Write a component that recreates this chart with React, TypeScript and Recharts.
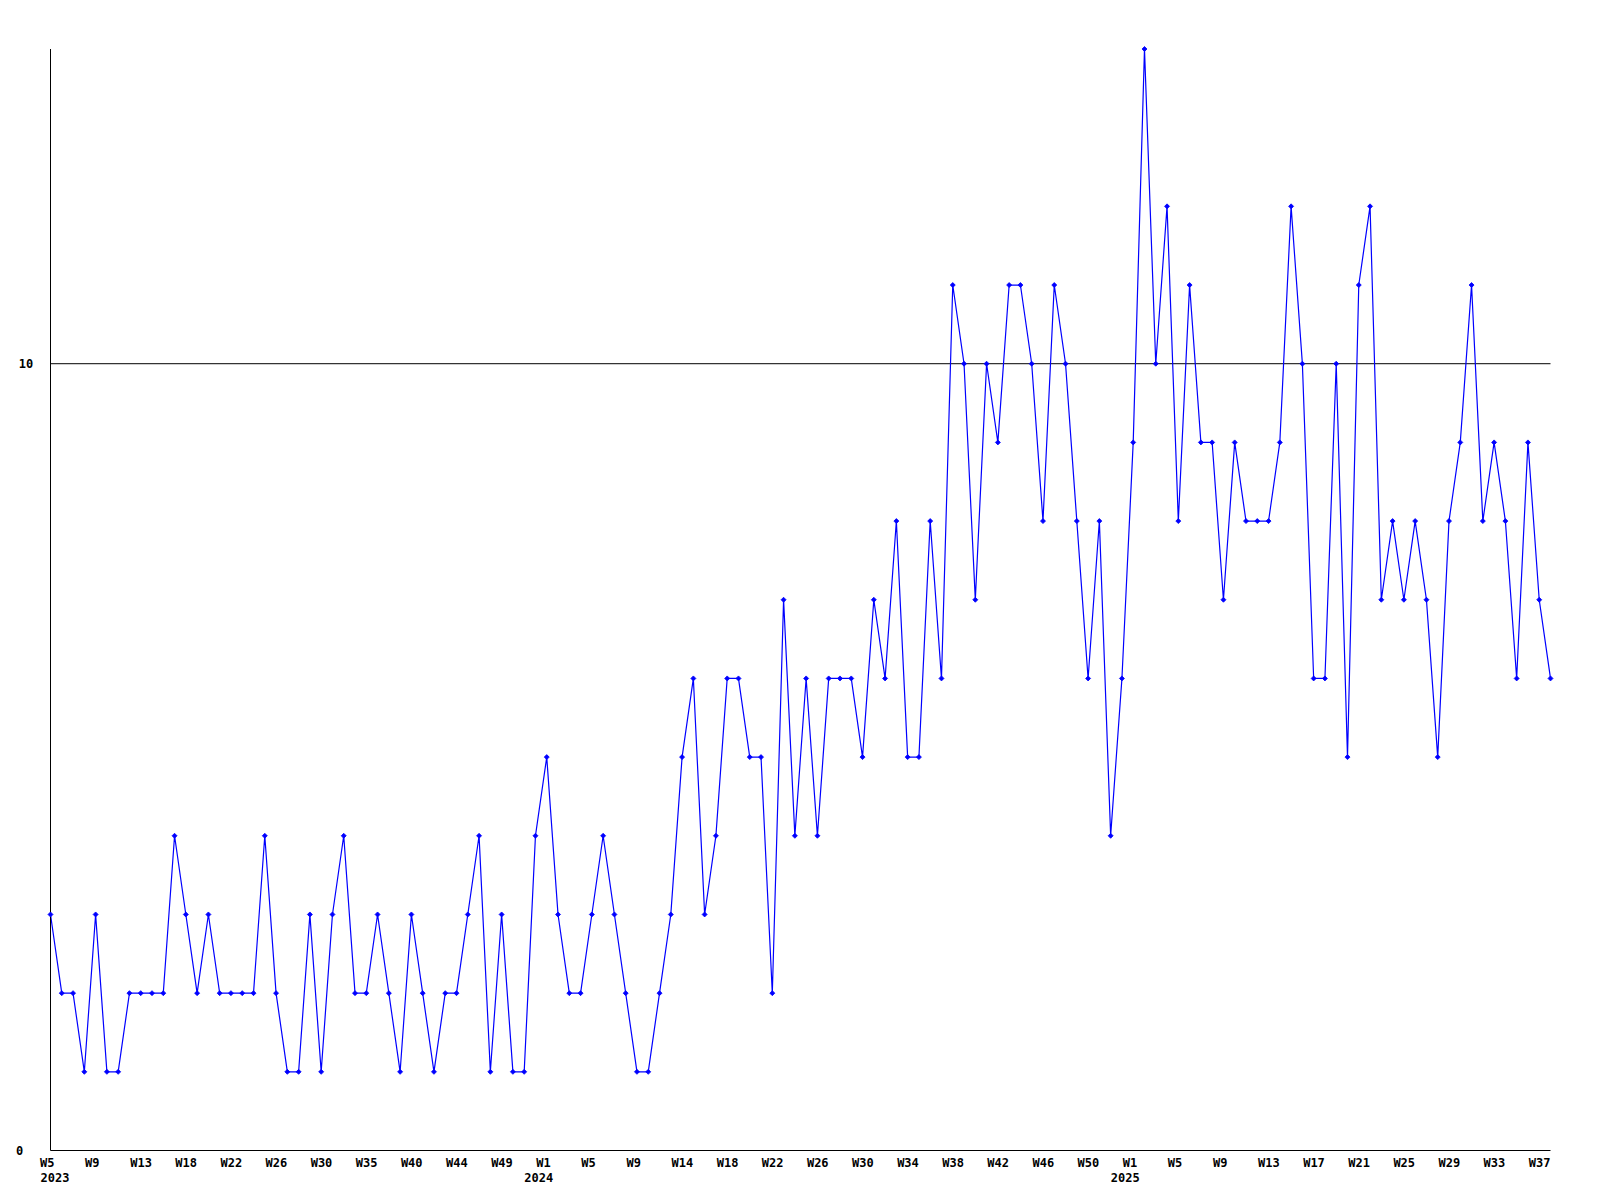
import React from 'react';
import { LineChart, Line, XAxis, YAxis, ReferenceLine } from 'recharts';

// Weekly counts, 2023 W5 .. 2025 W38 (134 points)
const values: number[] = [
  3, 2, 2, 1, 3, 1, 1, 2, 2, 2,
  2, 4, 3, 2, 3, 2, 2, 2, 2, 4,
  2, 1, 1, 3, 1, 3, 4, 2, 2, 3,
  2, 1, 3, 2, 1, 2, 2, 3, 4, 1,
  3, 1, 1, 4, 5, 3, 2, 2, 3, 4,
  3, 2, 1, 1, 2, 3, 5, 6, 3, 4,
  6, 6, 5, 5, 2, 7, 4, 6, 4, 6,
  6, 6, 5, 7, 6, 8, 5, 5, 8, 6,
  11, 10, 7, 10, 9, 11, 11, 10, 8, 11,
  10, 8, 6, 8, 4, 6, 9, 14, 10, 12,
  8, 11, 9, 9, 7, 9, 8, 8, 8, 9,
  12, 10, 6, 6, 10, 5, 11, 12, 7, 8,
  7, 8, 7, 5, 8, 9, 11, 8, 9, 8,
  6, 9, 7, 6,
];

// Week labels shown every 4th point
const tickLabels: string[] = [
  'W5', 'W9', 'W13', 'W18', 'W22', 'W26', 'W30', 'W35', 'W40', 'W44', 'W49',
  'W1', 'W5', 'W9', 'W14', 'W18', 'W22', 'W26', 'W30', 'W34', 'W38', 'W42', 'W46', 'W50',
  'W1', 'W5', 'W9', 'W13', 'W17', 'W21', 'W25', 'W29', 'W33', 'W37',
];
const tickStep = 4;
const tickIndex: number[] = tickLabels.map((_, k) => k * tickStep);

// Year labels under the first tick of each year
const years: string[] = ['2023', '2024', '2025'];
const yearTickIndex: number[] = [0, 44, 96];

const yTicks: number[] = [0, 10];
const yMax = 14;

const data = values.map((v, i) => ({ idx: i, value: v }));

const FONT = '"DejaVu Sans Mono", monospace';
const FS = 12;
const BLUE = '#0000ff';
const LEFT_LIMIT = 32.5;

const XTick = (props: any) => {
  const { x, y, payload } = props;
  const k = tickIndex.indexOf(payload.value);
  const yi = yearTickIndex.indexOf(payload.value);
  return (
    <g>
      <text x={x - 10.5} y={y + 16.5} fontFamily={FONT} fontWeight="bold" fontSize={FS} fill="#000">
        {k >= 0 ? tickLabels[k] : ''}
      </text>
      {yi >= 0 && (
        <text
          x={Math.max(x - 22.5, LEFT_LIMIT)}
          y={y + 31.2}
          fontFamily={FONT}
          fontWeight="bold"
          fontSize={FS}
          fill="#000"
        >
          {years[yi]}
        </text>
      )}
    </g>
  );
};

const YTick = (props: any) => {
  const { x, y, payload } = props;
  const s = String(payload.value);
  return (
    <text
      x={x - 34.6 + 2.8 * (s.length - 1)}
      y={y + 4.4}
      fontFamily={FONT}
      fontWeight="bold"
      fontSize={FS}
      fill="#000"
    >
      {s}
    </text>
  );
};

const Marker = (props: any) => {
  const { cx, cy, index } = props;
  if (cx == null || cy == null) return <g key={`d${index}`} />;
  const r = 2.5;
  return (
    <path
      key={`d${index}`}
      d={`M${cx},${cy - r}L${cx + r},${cy}L${cx},${cy + r}L${cx - r},${cy}Z`}
      fill={BLUE}
      stroke={BLUE}
      strokeWidth={0.8}
    />
  );
};

export default function App() {
  return (
    <div style={{ width: 1584, height: 1184, background: '#fff' }}>
      <LineChart
        width={1584}
        height={1184}
        data={data}
        margin={{ top: 41, left: 2.5, right: 41.5, bottom: 1.5 }}
      >
        <XAxis
          dataKey="idx"
          type="number"
          domain={[0, values.length - 1]}
          ticks={tickIndex}
          interval={0}
          height={40}
          tickSize={0}
          tickMargin={0}
          tickLine={false}
          axisLine={{ stroke: '#000', strokeWidth: 1 }}
          tick={<XTick />}
        />
        <YAxis
          type="number"
          domain={[0, yMax]}
          ticks={yTicks}
          interval={0}
          width={40}
          tickSize={0}
          tickMargin={0}
          tickLine={false}
          axisLine={{ stroke: '#000', strokeWidth: 1 }}
          tick={<YTick />}
        />
        <ReferenceLine y={10} stroke="#000" strokeWidth={1} />
        <Line
          type="linear"
          dataKey="value"
          stroke={BLUE}
          strokeWidth={1.2}
          dot={(p: any) => <Marker {...p} />}
          activeDot={false}
          isAnimationActive={false}
        />
      </LineChart>
    </div>
  );
}
